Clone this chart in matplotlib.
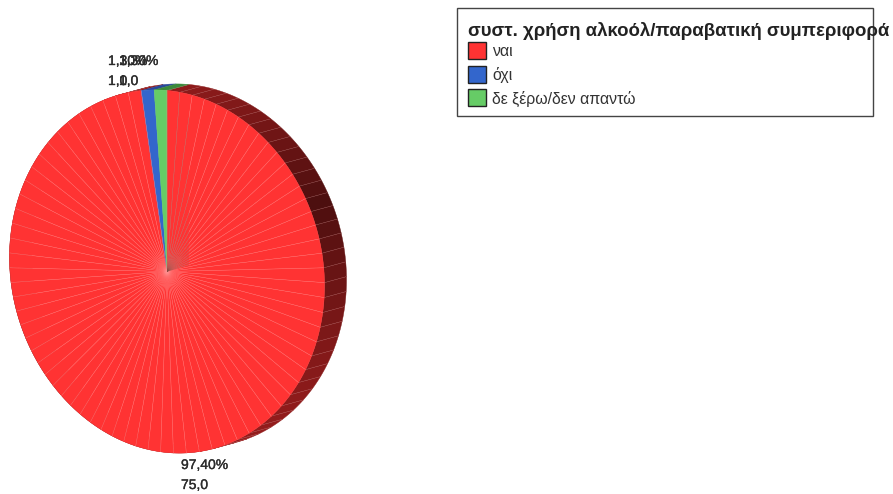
import numpy as np
import matplotlib
matplotlib.use('Agg')
import matplotlib.pyplot as plt
import matplotlib.patheffects as pe
from matplotlib.patches import Polygon, Rectangle

plt.rcParams['font.family'] = ['Liberation Sans', 'DejaVu Sans']

# Data: SPSS draws one slice per case
categories = ['ναι', 'όχι', 'δε ξέρω/δεν απαντώ']
counts = [75, 1, 1]
percents = ['97,40%', '1,30%', '1,30%']
count_labels = ['75,0', '1,0', '1,0']
colors = ['#ff3333', '#3366cc', '#66cc66']
rim_colors = [None, '#28489a', '#3a8a3a']
legend_title = 'συστ. χρήση αλκοόλ/παραβατική συμπεριφορά'

W, H = 893, 494
fig = plt.figure(figsize=(W / 100, H / 100), dpi=100)
ax = fig.add_axes([0, 0, 1, 1])
ax.set_xlim(0, W)
ax.set_ylim(H, 0)
ax.axis('off')

cx, cy, rx, ry = 167, 271.5, 157, 181
dx, dy = 22, -6
tilt = 0.04


def outline(t):
    # the 3D view leaves the pie as a slightly tilted ellipse
    r = 1 - tilt * np.sin(2 * t)
    return cx + rx * r * np.sin(t), cy - ry * r * np.cos(t)


n_total = sum(counts)
edges = np.radians(np.arange(n_total + 1) * 360 / n_total)
owner = np.repeat(np.arange(len(counts)), counts)

# rim first, the face goes on top of it
for i in range(n_total):
    t = np.linspace(edges[i], edges[i + 1], 6)
    fx, fy = outline(t)
    pts = list(zip(fx, fy)) + list(zip(fx[::-1] + dx, fy[::-1] + dy))
    if owner[i] == 0:
        shade = 0.30 + 0.28 * abs(np.sin(t[2] - np.radians(68)))
        face = (shade, shade * 0.19, shade * 0.19)
    else:
        face = rim_colors[owner[i]]
    ax.add_patch(Polygon(pts, closed=True, facecolor=face, edgecolor=face, linewidth=0.3, zorder=1))
    x0, y0 = outline(edges[i])
    if owner[i] == 0:
        ax.plot([x0, x0 + dx], [y0, y0 + dy], color='#c88080', lw=0.3, alpha=0.6, zorder=1.5)

# front face
for i in range(n_total):
    t = np.linspace(edges[i], edges[i + 1], 6)
    fx, fy = outline(t)
    pts = [(cx, cy)] + list(zip(fx, fy))
    c = colors[owner[i]]
    ax.add_patch(Polygon(pts, closed=True, facecolor=c, edgecolor=c, linewidth=0.3, zorder=2))

# seams, pale on the red slices, dark where the cut face shows through
top_x, top_y = outline(0.0)
cut = Polygon([(cx, cy), (top_x, top_y), (top_x + dx, top_y + dy), (cx + dx, cy + dy)],
              closed=True, transform=ax.transData, facecolor='none', edgecolor='none')
ax.add_patch(cut)
for i in range(counts[0] + 1):
    x0, y0 = outline(edges[i])
    ax.plot([cx, x0], [cy, y0], color='#ff9090', lw=0.3, alpha=0.8, zorder=3)
    dark, = ax.plot([cx, x0], [cy, y0], color='#8a4a40', lw=0.35, alpha=0.6, zorder=3.1)
    dark.set_clip_path(cut)

# value labels overlap in the original as well
txt = dict(fontsize=10, color='#2c2c2c', va='center', ha='left',
           path_effects=[pe.withStroke(linewidth=0.25, foreground='#2c2c2c')])
ax.text(181, 465, percents[0], **txt)
ax.text(181, 485, count_labels[0], **txt)
ax.text(108, 61, percents[1], **txt)
ax.text(119, 61, percents[2], **txt)
ax.text(108, 81, count_labels[1], **txt)
ax.text(119, 81, count_labels[2], **txt)

# legend box, the title runs past its right edge
ax.add_patch(Rectangle((457, 8), 416, 108, facecolor='white', edgecolor='#444444', linewidth=1.0, zorder=4))
ax.text(468, 31, legend_title, fontsize=13.4, fontweight='bold', color='#222222', va='center', ha='left', zorder=5)
for i, name in enumerate(categories):
    y = 50.5 + i * 23.7
    ax.add_patch(Rectangle((468, y - 8.5), 18, 17, facecolor=colors[i], edgecolor='#222222', linewidth=1.0, zorder=5))
    ax.text(492, y + 1, name, fontsize=11.4, color='#333333', va='center', ha='left', zorder=5)

fig.savefig('out.png', dpi=100)
